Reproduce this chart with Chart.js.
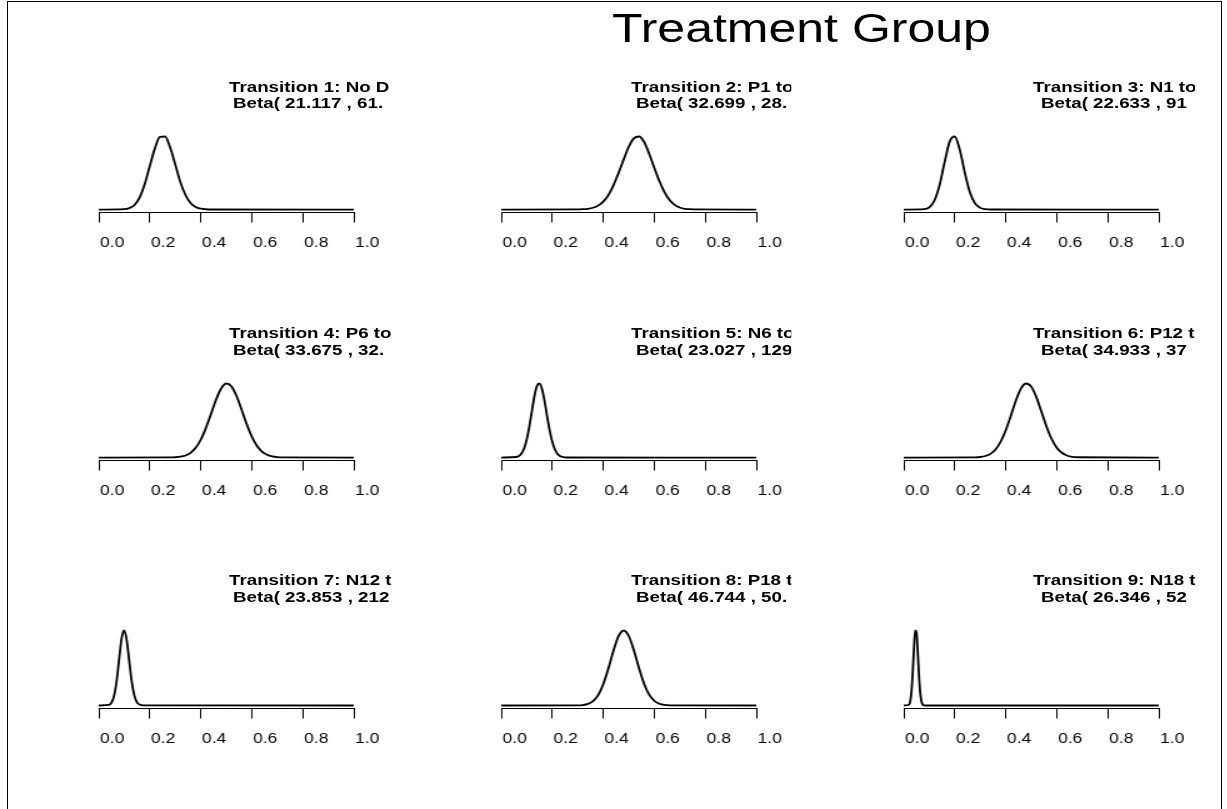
<!DOCTYPE html>
<html>
<head>
<meta charset="utf-8">
<title>Treatment Group</title>
<script src="https://cdn.jsdelivr.net/npm/chart.js@4.4.0/dist/chart.umd.min.js"></script>
<style>
html, body { margin: 0; padding: 0; background: #fff; }
body { width: 1227px; height: 809px; overflow: hidden; position: relative; }
#frame { position: absolute; left: 7px; top: 1px; width: 1213px; height: 900px; border: 1px solid #000; }
/* the whole picture is stretched sideways, so lay it out narrow and scale it */
#stage { position: absolute; left: 0; top: 0; width: 981.6px; height: 809px; transform: scaleX(1.25); transform-origin: 0 0;
         font-family: "Liberation Sans", Arial, Helvetica, sans-serif; color: #000; }
#main-title { position: absolute; left: 489.6px; top: 8px; font-size: 40px; line-height: 40px; white-space: nowrap; }
.ptitle { position: absolute; font-size: 15px; line-height: 16px; font-weight: bold; white-space: nowrap; overflow: hidden; }
canvas { position: absolute; }
</style>
</head>
<body>
<div id="frame"></div>
<div id="stage">
    <div id="main-title">Treatment Group</div>
</div>

<script>
// panel titles (cut off at the right edge as in the original)
const transitionLabels = ['Transition 1: No D', 'Transition 2: P1 to', 'Transition 3: N1 to',
                          'Transition 4: P6 to', 'Transition 5: N6 to', 'Transition 6: P12 t',
                          'Transition 7: N12 t', 'Transition 8: P18 t', 'Transition 9: N18 t'];
const betaLabels = ['Beta( 21.117 , 61.', 'Beta( 32.699 , 28.', 'Beta( 22.633 , 91',
                    'Beta( 33.675 , 32.', 'Beta( 23.027 , 129', 'Beta( 34.933 , 37',
                    'Beta( 23.853 , 212', 'Beta( 46.744 , 50.', 'Beta( 26.346 , 52'];

const tickValues = [0, 0.2, 0.4, 0.6, 0.8, 1.0];

// density curves
const xs1 = [0, 0.10, 0.12, 0.14, 0.16, 0.18, 0.20, 0.22, 0.24, 0.26, 0.28, 0.30, 0.32, 0.34, 0.36, 0.38, 0.40, 0.42, 0.44, 1];
const dens1 = [0, 0.04, 0.16, 0.52, 1.35, 2.85, 4.9, 6.9, 8.2, 8.25, 7.0, 5.1, 3.1, 1.65, 0.75, 0.3, 0.11, 0.035, 0.01, 0];

const xs2 = [0, 0.30, 0.32, 0.34, 0.36, 0.38, 0.40, 0.42, 0.44, 0.46, 0.48, 0.50, 0.52, 0.54, 0.56, 0.58, 0.60, 0.62, 0.64, 0.66, 0.68, 0.70, 0.72, 0.74, 0.76, 1];
const dens2 = [0, 0.01, 0.03, 0.07, 0.16, 0.34, 0.68, 1.25, 2.08, 3.15, 4.30, 5.40, 6.12, 6.28, 5.82, 4.8, 3.6, 2.45, 1.5, 0.82, 0.4, 0.18, 0.07, 0.03, 0.01, 0];

const xs3 = [0, 0.08, 0.10, 0.12, 0.14, 0.16, 0.18, 0.20, 0.22, 0.24, 0.26, 0.28, 0.30, 0.32, 0.34, 1];
const dens3 = [0, 0.06, 0.33, 1.3, 3.5, 6.9, 9.95, 10.7, 8.7, 5.3, 2.45, 0.88, 0.25, 0.06, 0.01, 0];

const xs4 = [0, 0.28, 0.30, 0.32, 0.34, 0.36, 0.38, 0.40, 0.42, 0.44, 0.46, 0.48, 0.50, 0.52, 0.54, 0.56, 0.58, 0.60, 0.62, 0.64, 0.66, 0.68, 0.70, 0.72, 1];
const dens4 = [0, 0.008, 0.025, 0.072, 0.18, 0.415, 0.85, 1.56, 2.58, 3.81, 5.07, 6.05, 6.49, 6.25, 5.41, 4.20, 2.93, 1.84, 1.03, 0.52, 0.24, 0.097, 0.035, 0.011, 0];

const xs5 = [0, 0.06, 0.07, 0.08, 0.09, 0.10, 0.11, 0.12, 0.13, 0.14, 0.15, 0.16, 0.17, 0.18, 0.19, 0.20, 0.21, 0.22, 0.23, 0.24, 0.25, 0.26, 1];
const dens5 = [0, 0.1, 0.3, 0.8, 1.75, 3.4, 5.75, 8.6, 11.4, 13.3, 13.77, 12.7, 10.45, 7.6, 5.0, 2.95, 1.55, 0.72, 0.3, 0.11, 0.04, 0.01, 0];

const xs6 = [0, 0.28, 0.30, 0.32, 0.34, 0.36, 0.38, 0.40, 0.42, 0.44, 0.46, 0.48, 0.50, 0.52, 0.54, 0.56, 0.58, 0.60, 0.62, 0.64, 0.66, 0.68, 1];
const dens6 = [0, 0.016, 0.05, 0.14, 0.34, 0.75, 1.46, 2.52, 3.87, 5.27, 6.38, 6.84, 6.55, 5.58, 4.22, 2.85, 1.71, 0.91, 0.44, 0.19, 0.07, 0.025, 0];

const xs7 = [0, 0.04, 0.05, 0.06, 0.07, 0.08, 0.09, 0.10, 0.11, 0.12, 0.13, 0.14, 0.15, 0.16, 0.17, 0.18, 1];
const dens7 = [0, 0.14, 0.75, 2.6, 6.6, 12.7, 18.4, 20.4, 17.6, 11.8, 6.2, 2.6, 0.85, 0.25, 0.06, 0.01, 0];

const xs8 = [0, 0.30, 0.32, 0.34, 0.36, 0.38, 0.40, 0.42, 0.44, 0.46, 0.48, 0.50, 0.52, 0.54, 0.56, 0.58, 0.60, 0.62, 0.64, 0.66, 1];
const dens8 = [0, 0.013, 0.05, 0.17, 0.47, 1.10, 2.24, 3.89, 5.77, 7.30, 7.9, 7.32, 5.82, 3.95, 2.3, 1.14, 0.5, 0.19, 0.06, 0.016, 0];

const xs9 = [0, 0.020, 0.025, 0.030, 0.035, 0.040, 0.045, 0.050, 0.055, 0.060, 0.065, 0.070, 0.075, 0.080, 0.085, 1];
const dens9 = [0, 0.4, 2.1, 7.3, 18.3, 32.5, 42.7, 41.6, 30.2, 16.3, 6.6, 2.0, 0.45, 0.08, 0.01, 0];

const panelXs = [xs1, xs2, xs3, xs4, xs5, xs6, xs7, xs8, xs9];
const panelDens = [dens1, dens2, dens3, dens4, dens5, dens6, dens7, dens8, dens9];

// layout, in picture pixels (x values get divided by the stretch)
const S = 1.25;
const colTick0 = [99.3, 501.7, 904];
const axisSpan = 255;
const colClip = [391, 791, 1195];
const titleLeft1 = [229, 631, 1033];
const titleLeft2 = [233, 636, 1041];
const rowPeak = [136.5, 383.5, 630.5];
const rowAxis = [212.5, 460.5, 708.5];
const rowTitle1 = [79, 325, 572];
const rowTitle2 = [95, 342, 589];

const padL = 10, padR = 30, padT = 5;
const tickLen = 10, tickPad = 12.5, labelFont = 14;

Chart.defaults.font.family = '"Liberation Sans", Arial, Helvetica, sans-serif';
Chart.defaults.color = '#000';

const stage = document.getElementById('stage');

function addTitle(text, left, top, clip) {
    const div = document.createElement('div');
    div.className = 'ptitle';
    div.textContent = text;
    div.style.left = (left / S) + 'px';
    div.style.top = top + 'px';
    div.style.width = ((clip - left) / S) + 'px';
    stage.appendChild(div);
}

function makePanel(i) {
    const r = Math.floor(i / 3), c = i % 3;
    const xs = panelXs[i], ys = panelDens[i];
    const peak = Math.max(...ys);

    addTitle(transitionLabels[i], titleLeft1[c], rowTitle1[r], colClip[c]);
    addTitle(betaLabels[i], titleLeft2[c], rowTitle2[r], colClip[c]);

    // plot height so that the peak and zero sit like R's 4% expanded range
    const plotH = (rowAxis[r] - rowPeak[r]) * 1.08 / 1.04;
    const scaleH = tickLen + labelFont * 1.2 + 2 * tickPad;
    const canvasTop = Math.floor(rowAxis[r] - plotH - padT);
    const topPad = rowAxis[r] - plotH - canvasTop;
    const height = Math.ceil(topPad + plotH + scaleH + 2);
    const padB = height - topPad - plotH - scaleH;
    const width = Math.round(padL + axisSpan / S + padR);

    const canvas = document.createElement('canvas');
    canvas.width = width;
    canvas.height = height;
    canvas.style.left = (colTick0[c] / S - padL) + 'px';
    canvas.style.top = canvasTop + 'px';
    stage.appendChild(canvas);

    new Chart(canvas, {
        type: 'line',
        data: {
            datasets: [{
                data: xs.map((x, k) => ({ x: x, y: ys[k] })),
                borderColor: '#000',
                borderWidth: 1.8,
                pointRadius: 0,
                fill: false,
                cubicInterpolationMode: 'monotone'
            }]
        },
        options: {
            responsive: false,
            animation: false,
            events: [],
            layout: { padding: { left: padL, right: padR, top: topPad, bottom: padB } },
            plugins: { legend: { display: false }, tooltip: { enabled: false } },
            scales: {
                x: {
                    type: 'linear',
                    min: 0,
                    max: 1,
                    afterBuildTicks: scale => { scale.ticks = tickValues.map(v => ({ value: v })); },
                    afterFit: scale => { scale.paddingLeft = 0; scale.paddingRight = 0; },
                    ticks: {
                        autoSkip: false,
                        maxRotation: 0,
                        align: 'start',
                        labelOffset: 1,
                        padding: tickPad,
                        color: '#000',
                        font: { size: labelFont },
                        callback: v => Number(v).toFixed(1)
                    },
                    grid: { drawOnChartArea: false, drawTicks: true, tickLength: tickLen, color: '#000', lineWidth: 1 },
                    border: { display: true, color: '#000', width: 1 }
                },
                y: { display: false, min: -0.04 * peak, max: 1.04 * peak }
            }
        }
    });
}

for (let i = 0; i < 9; i++) makePanel(i);
</script>
</body>
</html>
